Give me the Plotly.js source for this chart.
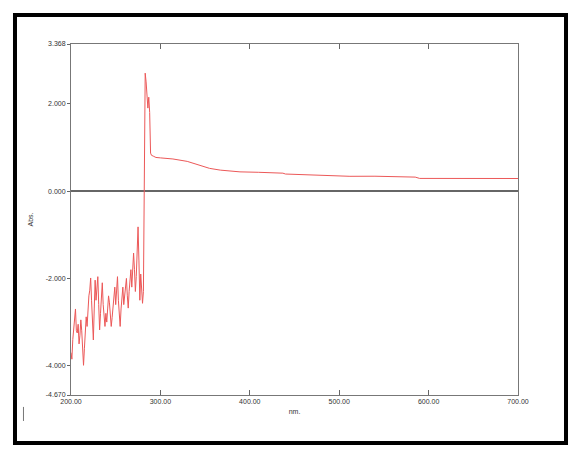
<!DOCTYPE html>
<html>
<head>
<meta charset="utf-8">
<script src="https://cdn.plot.ly/plotly-3.0.1.min.js"></script>
<style>
html,body{margin:0;padding:0;background:#fff;}
#chart{width:573px;height:450px;}
</style>
</head>
<body>
<div id="chart"></div>
<script>
// Wavelength (nm) and absorbance
const wavelengths = [
  200,201,202,203,204,205,206,207,208,209,
  210,211,212,213,214,215,216,217,218,219,
  220,221,222,223,224,225,226,227,228,229,
  230,231,232,233,234,235,236,237,238,239,
  240,241,242,243,244,245,246,247,248,249,
  250,251,252,253,254,255,256,257,258,259,
  260,261,262,263,264,265,266,267,268,269,
  270,271,272,273,274,275,276,277,278,279,
  280,281,282,283,284,285,286,287,288,289,
  290,292,295,300,314,330,344,355,367,378,
  389,410,437,440,470,490,512,540,585,590,
  650,700
];
const absorbance = [
  -3.70,-3.85,-3.40,-3.10,-2.90,-2.70,-3.20,-3.25,-3.05,-3.50,
  -3.30,-2.95,-3.20,-3.70,-3.99,-3.60,-3.20,-2.88,-3.10,-2.60,
  -2.40,-2.27,-1.99,-2.50,-3.00,-3.41,-2.70,-2.04,-2.50,-2.20,
  -1.96,-2.60,-3.18,-2.80,-2.33,-2.10,-2.60,-2.90,-3.10,-2.80,
  -3.00,-2.70,-2.40,-2.56,-2.80,-3.10,-2.90,-2.60,-2.40,-2.20,
  -2.60,-2.10,-1.96,-2.50,-2.90,-3.10,-2.70,-2.40,-2.20,-2.60,
  -2.40,-2.27,-2.00,-2.40,-2.68,-2.30,-2.00,-1.80,-2.20,-1.70,
  -1.42,-1.80,-2.30,-1.96,-1.50,-0.82,-1.60,-2.50,-1.90,-2.40,
  -2.57,-2.30,0.30,2.70,2.50,2.25,1.90,2.15,1.80,0.87,
  0.82,0.80,0.77,0.76,0.735,0.68,0.60,0.52,0.48,0.46,
  0.44,0.43,0.41,0.39,0.37,0.345,0.338,0.34,0.32,0.29,
  0.288,0.288
];
const xTickVals = [200,300,400,500,600,700];
const xTickText = ["200.00","300.00","400.00","500.00","600.00","700.00"];
const yTickVals = [3.368,2,0,-2,-4,-4.670];
const yTickText = ["3.368","2.000","0.000","-2.000","-4.000","-4.670"];

const tickFont = {family:"Liberation Sans, Arial, sans-serif", size:7, color:"#333"};

const trace = {
  x: wavelengths,
  y: absorbance,
  type: "scatter",
  mode: "lines",
  line: {color:"rgb(236,88,88)", width:1},
  hoverinfo: "skip"
};

const layout = {
  width:573, height:450,
  margin:{l:71, r:55, t:44, b:55},
  paper_bgcolor:"#fff", plot_bgcolor:"#fff",
  showlegend:false,
  xaxis:{
    range:[200,700], tickvals:xTickVals, ticktext:xTickText,
    ticks:"inside", ticklen:5, tickcolor:"#666", tickwidth:1,
    showline:true, linecolor:"#777", linewidth:1, mirror:"ticks",
    showgrid:false, zeroline:false, tickfont:tickFont,
    title:{text:"nm.", font:tickFont, standoff:4}
  },
  yaxis:{
    range:[-4.670,3.368], tickvals:yTickVals, ticktext:yTickText,
    ticks:"outside", ticklen:3, tickcolor:"#666", tickwidth:1,
    showline:true, linecolor:"#777", linewidth:1, mirror:true,
    showgrid:false, zeroline:true, zerolinecolor:"#666", zerolinewidth:1.5,
    tickfont:tickFont,
    title:{text:"Abs.", font:tickFont, standoff:11}
  },
  shapes:[
    {type:"rect", xref:"paper", yref:"paper",
     x0:-0.1253, x1:1.1074, y0:-0.1368, y1:1.0826,
     line:{color:"#000", width:4}, fillcolor:"rgba(0,0,0,0)", layer:"above"},
    {type:"line", xref:"paper", yref:"paper",
     x0:-0.1063, x1:-0.1063, y0:-0.074, y1:-0.034,
     line:{color:"#777", width:1}}
  ]
};

Plotly.newPlot("chart", [trace], layout, {staticPlot:true, displayModeBar:false});
</script>
</body>
</html>
